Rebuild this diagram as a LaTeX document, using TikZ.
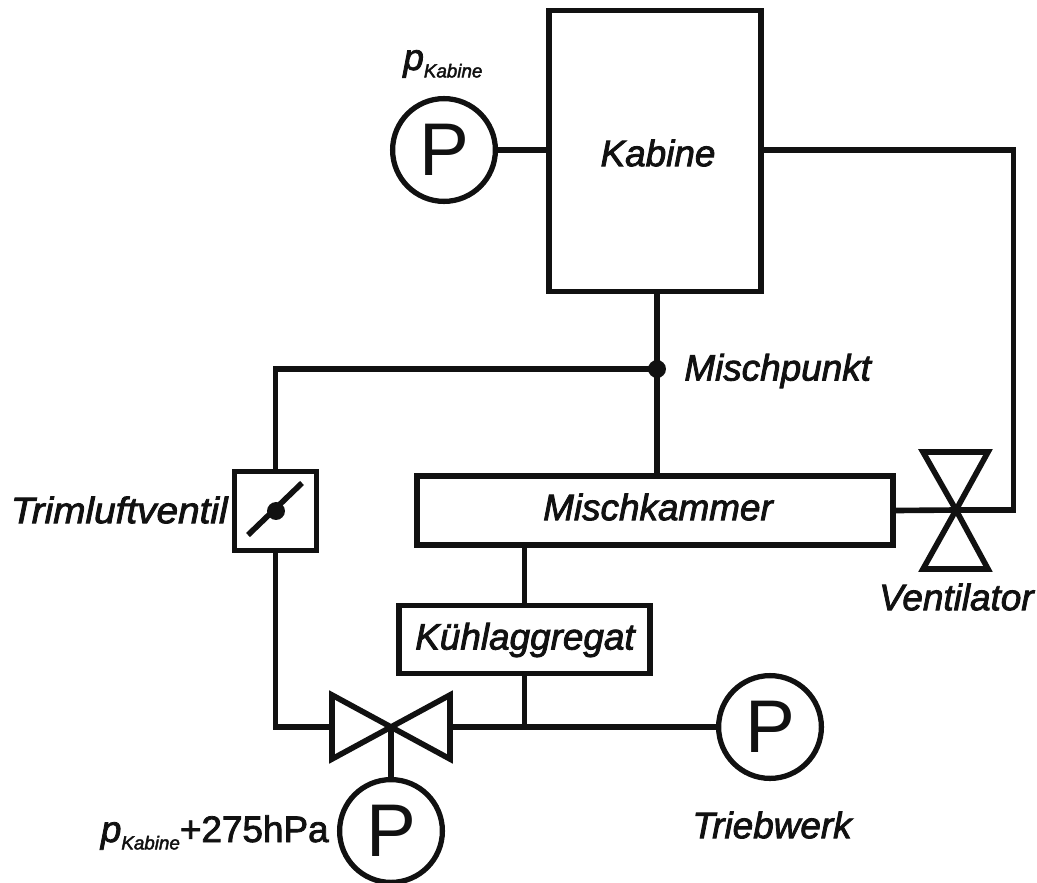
\documentclass[tikz,border=0pt]{standalone}
\usepackage{fontspec}
\newfontfamily\lblfont[FakeBold=2.2,ItalicFeatures={FakeBold=2.2}]{Liberation Sans}
\setmainfont{Liberation Sans}
\usetikzlibrary{calc}
\definecolor{ink}{HTML}{111111}
\tikzset{
  pipe/.style={draw=ink,line width=3.2pt},
  boxnode/.style={draw=ink,line width=3.2pt,inner sep=0pt},
  sensor/.style={circle,draw=ink,line width=3pt,minimum size=58.5pt,inner sep=0pt,font=\fontsize{42.5}{46}\selectfont,text=ink},
  lbl/.style={font=\lblfont\fontsize{21}{24}\selectfont\itshape,text=ink,inner sep=0pt},
  junction/.style={circle,fill=ink,minimum size=10.2pt,inner sep=0pt},
}
\newcommand{\pKabine}{p\raisebox{-4.2pt}{\fontsize{10.7}{12}\selectfont Kabine}}
\begin{document}
\begin{tikzpicture}[x=0.02cm,y=-0.02cm]
  \useasboundingbox (0,0) rectangle (1037,882);
  % boxes
  \node[boxnode,minimum width=120.5pt,minimum height=160pt] (kabine) at (655,151) {};
  \node[boxnode,minimum width=271pt,minimum height=39pt] (mischkammer) at (655,510.5) {};
  \node[boxnode,minimum width=142.6pt,minimum height=38.5pt] (kuehl) at (524.5,639.5) {};
  \node[boxnode,minimum width=46.5pt,minimum height=45pt] (trim) at (275.5,511) {};
  % sensors
  \node[sensor] (pk) at (444,150) {P};
  \node[sensor] (pt) at (770,727) {P};
  \node[sensor] (pv) at (391,831) {P};
  % valves
  \coordinate (vm) at (391,727);
  \coordinate (fan) at (956,510);
  \coordinate (mp) at (657,369);
  \draw[pipe,miter limit=3] (vm) -- (332,695) -- (332,759) -- cycle (vm) -- (450,695) -- (450,759) -- cycle;
  \draw[pipe,miter limit=3] (fan) -- (923,452) -- (988,452) -- cycle (fan) -- (923,569) -- (988,569) -- cycle;
  % flap
  \node[junction] (flap) at (276,511) {};
  \draw[pipe] (248,535) -- (302,483);
  % connectors
  \draw[pipe] (pk) -- (kabine.west |- pk);
  \draw[pipe] (kabine.south -| mp) -- (mp) -- (mischkammer.north -| mp);
  \node[junction] (mpdot) at (mp) {};
  \draw[pipe] (mp) -| (trim.north);
  \draw[pipe] (trim.south) |- (332,727);
  \draw[pipe] (450,727) -- (pt);
  \draw[pipe] (kuehl.south) -- (kuehl.south |- pt);
  \draw[pipe] (kuehl.north) -- (mischkammer.south -| kuehl.north);
  \draw[pipe] (vm) -- (pv);
  \draw[pipe] (mischkammer.east) -- (fan);
  \draw[pipe,line join=miter] (fan) -- (1013.5,510) -- (1013.5,150) -- (kabine.east |- pk);
  % labels
  \node[lbl] (kabinetxt) at (658,153) {Kabine};
  \node[lbl] (mischtxt) at (658,507) {Mischkammer};
  \node[lbl] (kuehltxt) at (525,640) {K\"uhlaggregat};
  \node[lbl,anchor=west] (mptxt) at (684,371) {Mischpunkt};
  \node[lbl,anchor=east,xscale=1.05] (trimtxt) at (228,510) {Trimluftventil};
  \node[lbl,anchor=east] (ventxt) at (1034,597) {Ventilator};
  \node[lbl,anchor=east] (triebtxt) at (852,825) {Triebwerk};
  \node[lbl,anchor=base west] (pktxt) at (403,70) {\pKabine};
  \node[lbl,anchor=base east] (pvtxt) at (329,842) {\pKabine{}\upshape +275hPa};
\end{tikzpicture}
\end{document}
